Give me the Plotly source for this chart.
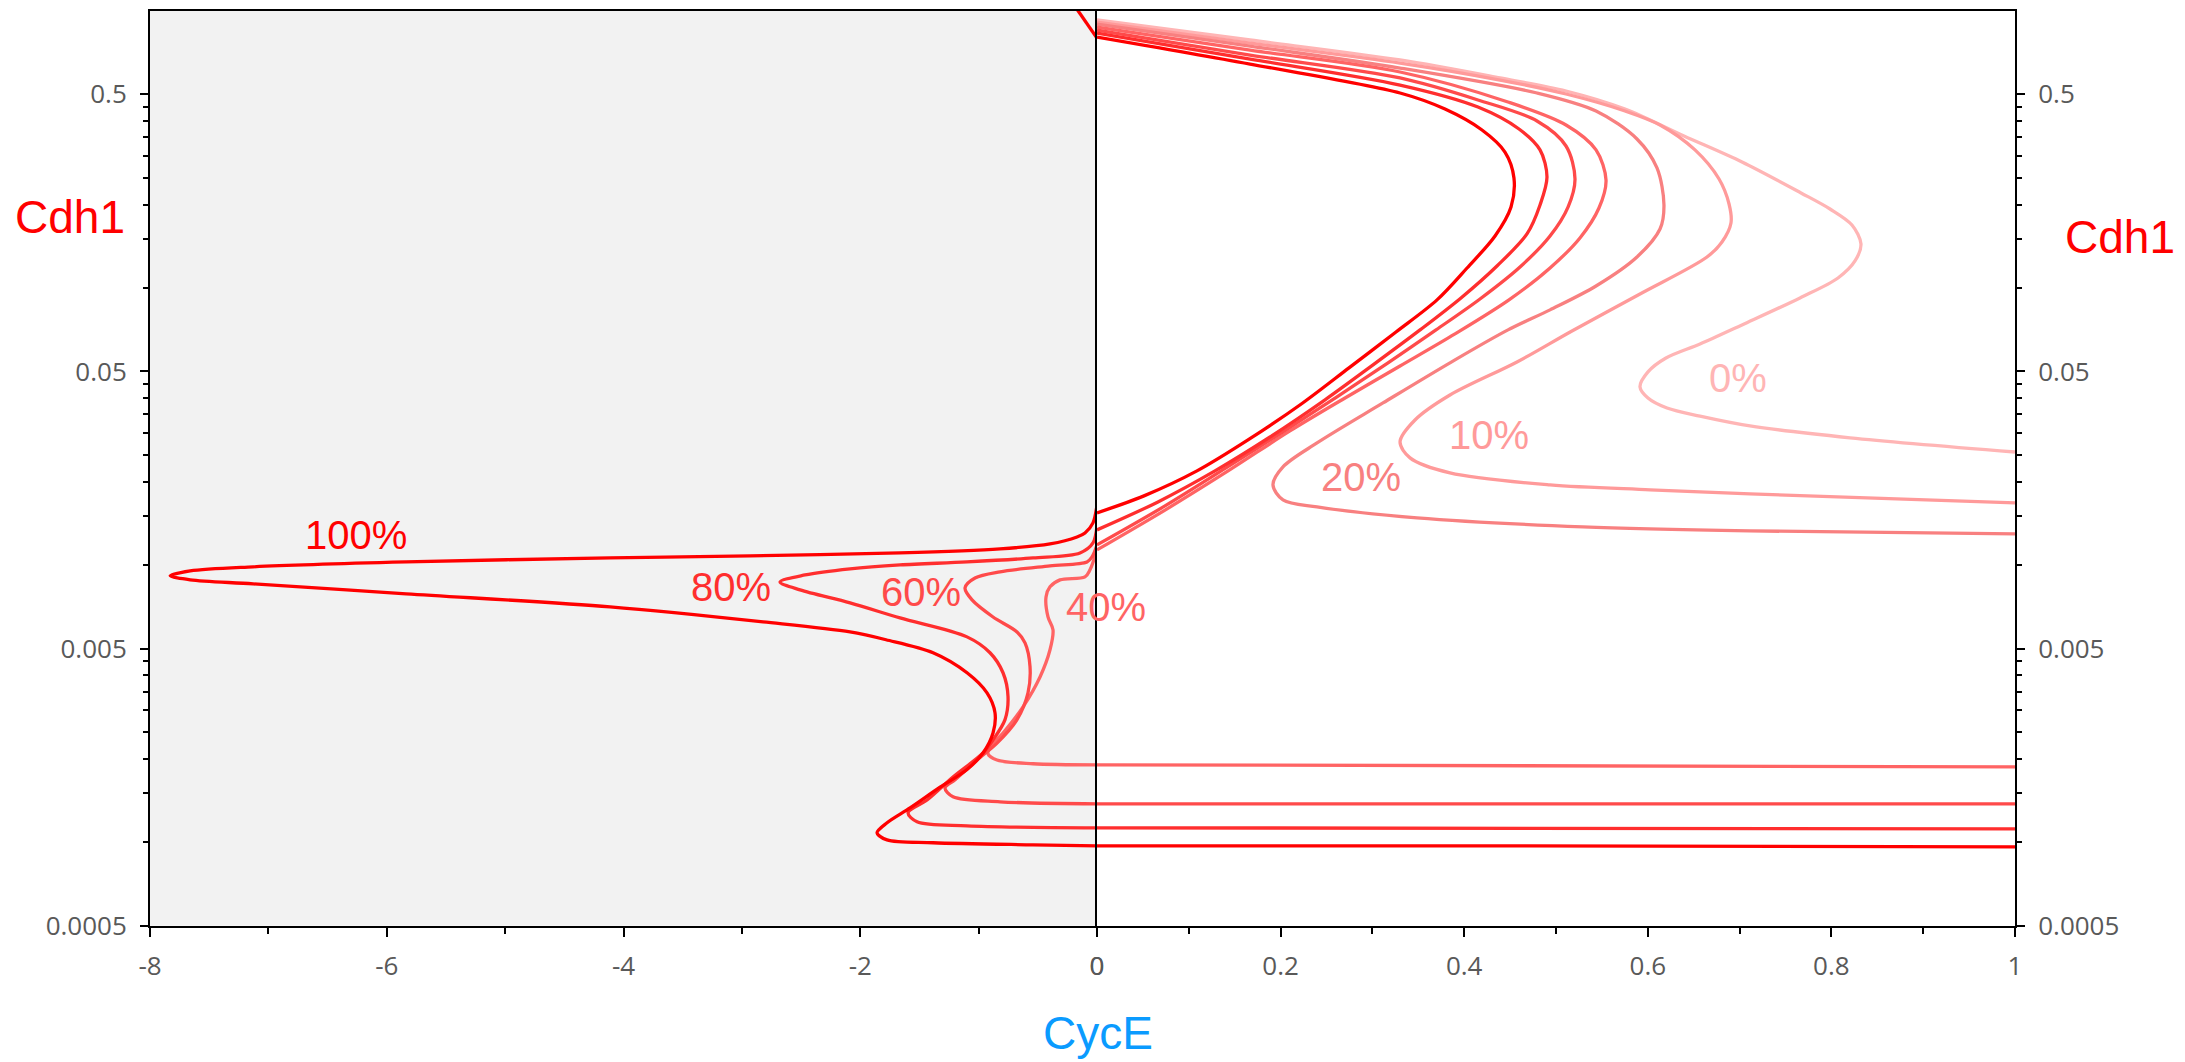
import numpy as np
import plotly.graph_objects as go

# ---- data: Cdh1 vs CycE steady-state curves for several levels ----
levels = ["0%", "10%", "20%", "40%", "60%", "80%", "100%"]
line_colors = ["#FFB5B5", "#FF9A9A", "#F88080", "#FF6464", "#FF4A4A", "#FF2E2E", "#FF0000"]

# curves lying entirely in CycE >= 0
cyce_0 = [0, 0.1667, 0.3301, 0.439, 0.5109, 0.5752, 0.6394, 0.7026, 0.7669, 0.7985, 0.8224, 0.8322, 0.8257,
          0.8072, 0.7658, 0.7026, 0.6569, 0.6198, 0.6002, 0.5915, 0.6002, 0.6209, 0.6569, 0.7113, 0.8203, 1.0]
cdh1_0 = [0.927, 0.785, 0.665, 0.5727, 0.514, 0.4424, 0.3536, 0.2849, 0.2203, 0.1928, 0.1688, 0.1442, 0.1252,
          0.1087, 0.0921, 0.0736, 0.0628, 0.0559, 0.0498, 0.0440, 0.0401, 0.0369, 0.0345, 0.0318, 0.0288, 0.0256]

cyce_10 = [0, 0.1667, 0.3301, 0.439, 0.5109, 0.5752, 0.6133, 0.6514, 0.6776, 0.6885, 0.6906, 0.6808, 0.6645,
           0.5915, 0.5174, 0.4575, 0.3845, 0.3464, 0.3301, 0.341, 0.3845, 0.4935, 0.6024, 0.7113, 1.0]
cdh1_10 = [0.9116, 0.7657, 0.6483, 0.563, 0.5012, 0.4352, 0.3875, 0.315, 0.2474, 0.201, 0.1717, 0.1466, 0.1294,
           0.0952, 0.07, 0.0541, 0.0411, 0.0334, 0.02784, 0.02438, 0.02152, 0.01948, 0.0187, 0.01807, 0.01678]

cyce_20 = [0, 0.1667, 0.3301, 0.4793, 0.5436, 0.5882, 0.61, 0.6176, 0.6133, 0.5882, 0.5436, 0.4935, 0.4477,
           0.3845, 0.3115, 0.2397, 0.2026, 0.1917, 0.2026, 0.2397, 0.3486, 0.5294, 0.7113, 1.0]
cdh1_20 = [0.8966, 0.7466, 0.6221, 0.5055, 0.4352, 0.3449, 0.2711, 0.1993, 0.1633, 0.1294, 0.1017, 0.0834, 0.0706,
           0.0537, 0.03848, 0.02761, 0.02262, 0.01948, 0.0172, 0.01622, 0.01481, 0.01374, 0.01329, 0.01297]

# curves crossing into CycE < 0: upper/middle branch (CycE >= 0)
cyce_40_up = [0, 0.1667, 0.3301, 0.4477, 0.5109, 0.5436, 0.5545, 0.5468, 0.5261, 0.4935, 0.4488, 0.39, 0.3301,
              0.2702, 0.2102, 0.1449, 0.0741, 0]
cdh1_40_up = [0.8745, 0.722, 0.6018, 0.469, 0.3875, 0.315, 0.245, 0.1944, 0.1516, 0.1181, 0.0906, 0.0683, 0.0523,
              0.0401, 0.0305, 0.0221, 0.0158, 0.01135]
cyce_60_up = [0, 0.1667, 0.3301, 0.415, 0.4793, 0.5109, 0.5207, 0.5131, 0.4935, 0.4608, 0.4172, 0.3693, 0.317,
              0.2614, 0.2026, 0.1405, 0.0741, 0]
cdh1_60_up = [0.853, 0.693, 0.5727, 0.477, 0.4006, 0.3254, 0.2474, 0.196, 0.1541, 0.1191, 0.0913, 0.0706, 0.0537,
              0.0405, 0.03025, 0.02243, 0.01636, 0.01183]
cyce_80_up = [0, 0.1667, 0.3301, 0.415, 0.4597, 0.4826, 0.4902, 0.4826, 0.4684, 0.4357, 0.3965, 0.3519, 0.3007,
              0.2484, 0.1885, 0.1285, 0.0664, 0]
cdh1_80_up = [0.8319, 0.6704, 0.54, 0.4498, 0.3748, 0.315, 0.2516, 0.1993, 0.1567, 0.1201, 0.0921, 0.0706, 0.0528,
              0.0395, 0.029, 0.02188, 0.01691, 0.0134]
cyce_100_up = [0, 0.1667, 0.3301, 0.3791, 0.4194, 0.4444, 0.4542, 0.451, 0.4336, 0.4031, 0.3704, 0.3257, 0.2745,
               0.2233, 0.1662, 0.1089, 0.0512, 0]
cdh1_100_up = [0.8046, 0.643, 0.5055, 0.4424, 0.3717, 0.3095, 0.2495, 0.196, 0.1541, 0.1181, 0.0906, 0.0694,
               0.0515, 0.0383, 0.02854, 0.02188, 0.01778, 0.01543]

# lower branch (CycE >= 0)
cyce_40_low, cdh1_40_low = [0, 1.0], [0.001903, 0.001872]
cyce_60_low, cdh1_60_low = [0, 1.0], [0.001376, 0.001376]
cyce_80_low, cdh1_80_low = [0, 1.0], [0.001128, 0.001118]
cyce_100_low, cdh1_100_low = [0, 0.44, 1.0], [0.000971, 0.000971, 0.000963]

# part with CycE < 0
cyce_40_neg = [0, -0.0591, -0.1014, -0.3125, -0.397, -0.4307, -0.4139, -0.3716, -0.397, -0.4814, -0.625, -0.7939,
               -0.9037, -0.9206, -0.8446, -0.5405, 0]
cdh1_40_neg = [0.01135, 0.00962, 0.00907, 0.00885, 0.00835, 0.00768, 0.0065, 0.00584, 0.00495, 0.00395, 0.00308,
               0.00248, 0.00221, 0.002085, 0.00198, 0.00192, 0.001903]
cyce_60_neg = [0, -0.0422, -0.0845, -0.397, -0.8193, -1.0304, -1.1149, -1.0557, -0.8784, -0.6757, -0.6081, -0.5659,
               -0.5828, -0.6757, -0.8446, -1.0135, -1.1993, -1.2838, -1.2162, -0.8193, 0]
cdh1_60_neg = [0.01183, 0.01071, 0.01027, 0.00994, 0.00946, 0.00899, 0.00828, 0.00749, 0.0065, 0.00574, 0.00524,
               0.0043, 0.00346, 0.00277, 0.00228, 0.00198, 0.00168, 0.00157, 0.001459, 0.0014, 0.001376]
cyce_80_neg = [0, -0.0338, -0.1436, -0.5405, -1.098, -1.6639, -2.0861, -2.4662, -2.6774, -2.5084, -2.0861, -1.6639,
               -1.098, -0.9037, -0.7939, -0.7517, -0.777, -0.8784, -0.9628, -1.2162, -1.4358, -1.5963, -1.5203,
               -1.098, 0]
cdh1_80_neg = [0.01385, 0.01203, 0.01107, 0.01062, 0.01027, 0.01002, 0.0097, 0.00922, 0.0087, 0.00814, 0.00731,
               0.00645, 0.00551, 0.00483, 0.00409, 0.00335, 0.00277, 0.00234, 0.0021, 0.00172, 0.00142, 0.001277,
               0.001186, 0.001146, 0.001128]
cyce_100_neg = [0, -0.0338, -0.1014, -0.1689, -0.397, -0.8193, -1.6639, -2.9307, -4.1132, -5.8361, -7.1284, -7.6605,
                -7.8294, -7.6605, -7.1284, -5.8361, -4.1132, -2.821, -2.0861, -1.7821, -1.3851, -1.098, -0.929,
                -0.8615, -0.8784, -0.9628, -1.098, -1.326, -1.5794, -1.7736, -1.8581, -1.7736, -1.3851, -0.5405, 0]
cdh1_100_neg = [0.0165, 0.01421, 0.01307, 0.01264, 0.01193, 0.01145, 0.01107, 0.0108, 0.01062, 0.01027, 0.00986,
                0.00953, 0.00915, 0.00885, 0.00856, 0.00788, 0.00707, 0.00624, 0.00574, 0.00538, 0.00483, 0.00409,
                0.00346, 0.00293, 0.00248, 0.0021, 0.00183, 0.00158, 0.00133, 0.001176, 0.001082, 0.00102,
                0.000996, 0.000979, 0.000971]
# high branch leaving the top just left of CycE = 0
cyce_100_top, cdh1_100_top = [-0.194, 0], [1.05, 0.798]

# label positions (axis, CycE, Cdh1)
label_pos = {
    "100%": ("x", -6.26, 0.01286),
    "80%": ("x", -3.09, 0.00835),
    "60%": ("x", -1.486, 0.00801),
    "40%": ("x2", 0.0103, 0.00707),
    "20%": ("x2", 0.2876, 0.0208),
    "10%": ("x2", 0.427, 0.0296),
    "0%": ("x2", 0.698, 0.0472),
}

# ---- figure ----
W, H = 2185, 1062
x_dom_left = [150 / W, 1097 / W]
x_dom_right = [1097 / W, 2015 / W]
y_dom = [1 - 925.7 / H, 1 - 11 / H]
y_range = [np.log10(0.0005), np.log10(0.999)]

fig = go.Figure()

# grey backdrop for the negative CycE panel
fig.add_shape(type="rect", xref="x domain", yref="y domain", x0=0, x1=1, y0=0, y1=1,
              fillcolor="#F2F2F2", line_width=0, layer="below")

LW = 3.3


def line(x, y, color, xa, ya):
    fig.add_trace(go.Scatter(x=x, y=y, mode="lines", xaxis=xa, yaxis=ya,
                             line=dict(color=color, width=LW, shape="spline", smoothing=0.9),
                             hoverinfo="skip"))


line(cyce_0, cdh1_0, line_colors[0], "x2", "y2")
line(cyce_10, cdh1_10, line_colors[1], "x2", "y2")
line(cyce_20, cdh1_20, line_colors[2], "x2", "y2")

split = [
    (cyce_40_up, cdh1_40_up, cyce_40_low, cdh1_40_low, cyce_40_neg, cdh1_40_neg, line_colors[3]),
    (cyce_60_up, cdh1_60_up, cyce_60_low, cdh1_60_low, cyce_60_neg, cdh1_60_neg, line_colors[4]),
    (cyce_80_up, cdh1_80_up, cyce_80_low, cdh1_80_low, cyce_80_neg, cdh1_80_neg, line_colors[5]),
    (cyce_100_up, cdh1_100_up, cyce_100_low, cdh1_100_low, cyce_100_neg, cdh1_100_neg, line_colors[6]),
]
for xu, yu, xl, yl, xn, yn, c in split:
    line(xu, yu, c, "x2", "y2")
    line(xl, yl, c, "x2", "y2")
    line(xn, yn, c, "x", "y")
line(cyce_100_top, cdh1_100_top, line_colors[6], "x", "y")

# empty traces so the minor-tick overlay axes are laid out
fig.add_trace(go.Scatter(x=[], y=[], xaxis="x", yaxis="y3", hoverinfo="skip"))
fig.add_trace(go.Scatter(x=[], y=[], xaxis="x2", yaxis="y4", hoverinfo="skip"))

tick_font = dict(family="Open Sans", size=26, color="#595959")
label_font_family = "Liberation Sans, Arial"

for name, c in zip(levels, line_colors):
    xa, xv, yv = label_pos[name]
    fig.add_annotation(x=xv, y=np.log10(yv), xref=xa, yref="y" if xa == "x" else "y2",
                       text=name, showarrow=False, xanchor="center", yanchor="middle",
                       font=dict(family=label_font_family, size=40, color=c))

fig.add_annotation(x=70 / W, y=1 - 217.5 / H, xref="paper", yref="paper", text="Cdh1", showarrow=False,
                   xanchor="center", yanchor="middle", font=dict(family=label_font_family, size=46, color="#FF0000"))
fig.add_annotation(x=2120 / W, y=1 - 237.5 / H, xref="paper", yref="paper", text="Cdh1", showarrow=False,
                   xanchor="center", yanchor="middle", font=dict(family=label_font_family, size=46, color="#FF0000"))
fig.add_annotation(x=1097.7 / W, y=1 - 1033 / H, xref="paper", yref="paper", text="CycE", showarrow=False,
                   xanchor="center", yanchor="middle", font=dict(family=label_font_family, size=46, color="#0A9BFF"))

y_major = [0.0005, 0.005, 0.05, 0.5]
y_major_text = ["0.0005", "0.005", "0.05", "0.5"]
y_minor = [m * d for d in (0.0005, 0.005, 0.05) for m in range(2, 10)]

common_y = dict(type="log", range=y_range, domain=y_dom, showline=True, linecolor="black", linewidth=2,
                showgrid=False, zeroline=False, ticks="outside", ticklen=8, tickwidth=2, automargin=False,
                tickcolor="black", tickmode="array", tickvals=y_major, ticktext=y_major_text, tickfont=tick_font,
                ticklabelstandoff=8)
minor_y = dict(type="log", range=y_range, showline=False, showgrid=False, zeroline=False, ticks="outside",
               ticklen=6, tickwidth=1.5, tickcolor="black", tickmode="array", tickvals=y_minor,
               showticklabels=False, automargin=False)
common_x = dict(showline=True, linecolor="black", linewidth=2, mirror=True, showgrid=False, zeroline=False,
                ticks="outside", ticklen=9, tickwidth=2, tickcolor="black", tickfont=tick_font,
                automargin=False, ticklabelstandoff=7, tickmode="array")

fig.update_layout(
    width=W, height=H, autosize=False, margin=dict(l=0, r=0, t=0, b=0, pad=0),
    paper_bgcolor="white", plot_bgcolor="white", showlegend=False,
    xaxis=dict(domain=x_dom_left, range=[-8, 0], anchor="y", tickvals=[-8, -6, -4, -2, 0],
               ticktext=["-8", "-6", "-4", "-2", "0"],
               minor=dict(tickmode="array", tickvals=[-7, -5, -3, -1], ticks="outside", ticklen=6, tickwidth=1.5,
                          tickcolor="black"),
               **common_x),
    xaxis2=dict(domain=x_dom_right, range=[0, 1], anchor="y2", tickvals=[0, 0.2, 0.4, 0.6, 0.8, 1],
                ticktext=["0", "0.2", "0.4", "0.6", "0.8", "1"],
                minor=dict(tickmode="array", tickvals=[0.1, 0.3, 0.5, 0.7, 0.9], ticks="outside", ticklen=6,
                           tickwidth=1.5, tickcolor="black"),
                **common_x),
    yaxis=dict(anchor="x", side="left", mirror=False, **common_y),
    yaxis2=dict(anchor="x2", side="right", mirror=True, **common_y),
    yaxis3=dict(overlaying="y", anchor="x", side="left", **minor_y),
    yaxis4=dict(overlaying="y2", anchor="x2", side="right", **minor_y),
)

fig.write_html("out.html")
